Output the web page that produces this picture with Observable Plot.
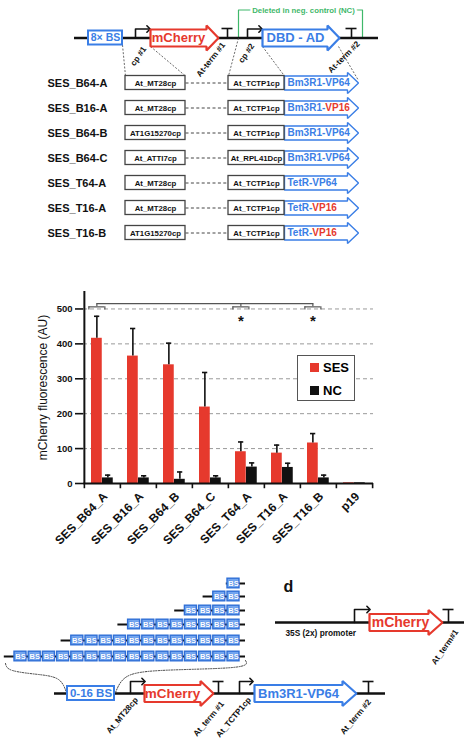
<!DOCTYPE html>
<html><head><meta charset="utf-8">
<script src="https://cdn.jsdelivr.net/npm/d3@7"></script>
<script src="https://cdn.jsdelivr.net/npm/@observablehq/plot@0.6"></script>
<style>
body{margin:0;background:#fff;}
#fig{position:relative;width:467px;height:751px;overflow:hidden;font-family:"Liberation Sans",Arial,Helvetica,sans-serif;background:#fff;}
#fig > *{position:absolute;left:0;}
#legend{left:297px;top:355px;width:56px;height:44px;border:1.5px solid #555;background:#fff;font-weight:bold;font-size:13px;}
#legend .row{position:absolute;left:12px;display:flex;align-items:center;gap:4px;}
#legend .sw{width:9px;height:9px;display:inline-block;}
</style></head><body><div id="fig"></div>
<script>
const FONT = "'Liberation Sans', Arial, Helvetica, sans-serif";
const RED = "#e6392d", BLUE = "#3a7ee6", GREEN = "#3fb86a";

// ---------- bar chart data ----------
const groups = ["SES_B64_A","SES_B16_A","SES_B64_B","SES_B64_C","SES_T64_A","SES_T16_A","SES_T16_B","p19"];
const sesMean = [416,365,340,219,91,87,116,2];
const sesSd   = [63,79,62,99,28,23,27,0];
const ncMean  = [16,16,12,16,47,46,16,2];
const ncSd    = [8,6,21,6,12,12,8,0];
const series = ["SES","NC"];
const seriesColors = [RED,"#111"];
const yTicks = [0,100,200,300,400,500];
const yGrid = [100,200,300,400,500];
const sigRef = "SES_B64_A";
const sigGroups = ["SES_T64_A","SES_T16_B"];
const yLabel = "mCherry fluorescence (AU)";

// ---------- construct table ----------
const constructs = ["SES_B64-A","SES_B16-A","SES_B64-B","SES_B64-C","SES_T64-A","SES_T16-A","SES_T16-B"];
const cp1 = ["At_MT28cp","At_MT28cp","AT1G15270cp","At_ATTI7cp","At_MT28cp","At_MT28cp","AT1G15270cp"];
const cp2 = ["At_TCTP1cp","At_TCTP1cp","At_TCTP1cp","At_RPL41Dcp","At_TCTP1cp","At_TCTP1cp","At_TCTP1cp"];
const dbd = ["Bm3R1-","Bm3R1-","Bm3R1-","Bm3R1-","TetR-","TetR-","TetR-"];
const ad  = ["VP64","VP16","VP64","VP64","VP64","VP16","VP16"];
const bsCounts = [1,2,4,8,12,16];

// ---------- diagram layout (pixel space) ----------
const rowY0 = 82.5, rowStep = 25;
const bsRowY = [583,596,610,624,640,656];

const fig = document.getElementById("fig");

const cv = document.createElement("canvas").getContext("2d");
function tw(t, size){ cv.font = `bold ${size}px ${FONT}`; return cv.measureText(t).width; }

function arrowPts(id, c, x0, xh, x1, yc, bh, hh){
  return [[x0,yc-bh/2],[xh,yc-bh/2],[xh,yc-hh/2],[x1,yc],[xh,yc+hh/2],[xh,yc+bh/2],[x0,yc+bh/2],[x0,yc-bh/2]]
    .map(([x,y])=>({id,c,x,y}));
}
function promoter(id, x, base, top, len){
  return [{id,x,y:base},{id,x,y:top},{id,x:x+len,y:top}];
}

// big arrows
const bigArrows = [
  ...arrowPts("m1",RED,150,206,218,37.5,17,25),
  ...arrowPts("dbd",BLUE,262,327,339,37.5,17,25),
  ...arrowPts("m2",RED,144,200,213,693,17,25),
  ...arrowPts("bm",BLUE,254,342,356,693,17,25),
  ...arrowPts("m3",RED,369,428,442,622,17,25)
];
const rowArrows = constructs.flatMap((c,i)=>arrowPts("r"+i,BLUE,284,347,358,rowY0+i*rowStep,14,21));
const promoters = [
  ...promoter("p1",135,37.5,28.5,13),
  ...promoter("p2",247,37.5,28.5,13),
  ...promoter("p3",130,693,681,13),
  ...promoter("p4",239,693,681,12),
  ...promoter("p5",354,622,609,14)
];
const terms = [{x:227,b:37.5,t:28},{x:351,b:37.5,t:28},{x:218,b:693,t:681},{x:368,b:693,t:681},{x:448,b:622,t:609}];
const backbones = [{x1:74,x2:378,y:37.5},{x1:54,x2:385,y:693},{x1:275,x2:464,y:622}];

// BS stacks
const bsStep = 14.2, bsRight = 240;
const bsBoxes = [], bsLines = [];
bsCounts.forEach((n,r)=>{
  const y = bsRowY[r];
  for(let k=0;k<n;k++){
    const x2 = bsRight - k*bsStep - 1;
    bsBoxes.push({x1:x2-12,x2,y1:y-4.8,y2:y+4.8,xc:x2-6,y});
  }
  const left = bsRight - n*bsStep - 1;
  bsLines.push({x1: n>1 ? left-8 : left+1, x2:bsRight+5, y});
});
const dotted = [
  {id:"L",x:5,y:663},{id:"L",x:12,y:670},{id:"L",x:38,y:674},{id:"L",x:58,y:679},{id:"L",x:66,y:692},
  {id:"R",x:245,y:660},{id:"R",x:232,y:667},{id:"R",x:160,y:670},{id:"R",x:125,y:677},{id:"R",x:115,y:692}
];
const zoomLinks = [
  {x1:122,y1:44.5,x2:125,y2:75.5},{x1:150,y1:46,x2:185,y2:75.5},
  {x1:238,y1:37.5,x2:228,y2:75.5},{x1:262,y1:46,x2:284,y2:75.5},{x1:338,y1:46,x2:358,y2:80}
];
const greenBracket = [{x:238,y:37.5},{x:238,y:9.5},{x:362,y:9.5},{x:362,y:37.5}];

const rows = constructs.map((name,i)=>({name,cp1:cp1[i],cp2:cp2[i],dbd:dbd[i],ad:ad[i],y:rowY0+i*rowStep}));

const midTexts = [
  {x:105,y:37.5,t:"8× BS",c:BLUE,s:10.5},
  {x:178,y:37.5,t:"mCherry",c:RED,s:13},
  {x:295,y:37.5,t:"DBD - AD",c:BLUE,s:13},
  {x:90.5,y:693,t:"0-16 BS",c:BLUE,s:11.5},
  {x:172,y:693,t:"mCherry",c:RED,s:13.5},
  {x:298,y:693,t:"Bm3R1-VP64",c:BLUE,s:13},
  {x:400,y:622,t:"mCherry",c:RED,s:14}
];
const rotTexts = [
  {x:144,y:47,t:"cp #1",r:-55},
  {x:223,y:43,t:"At-term #1",r:-52},
  {x:252,y:44,t:"cp #2",r:-55},
  {x:358,y:42,t:"At-term #2",r:-45},
  {x:136,y:698,t:"At_MT28cp",r:-50},
  {x:222,y:702,t:"At_term #1",r:-50},
  {x:249,y:698,t:"At_TCTP1cp",r:-50},
  {x:369,y:700,t:"At_term #2",r:-50},
  {x:456,y:630,t:"At_term#1",r:-55}
];

const diag = Plot.plot({
  width:467, height:751, margin:0,
  x:{domain:[0,467], range:[0,467], axis:null},
  y:{domain:[0,751], range:[0,751], axis:null},
  color:{type:"identity"},
  style:{fontFamily:FONT, overflow:"visible", background:"transparent"},
  marks:[
    // top green bracket
    Plot.line(greenBracket,{x:"x",y:"y",stroke:GREEN,strokeWidth:1.2}),
    Plot.text(["Deleted in neg. control (NC)"],{x:()=>303,y:()=>10,fill:GREEN,stroke:"white",strokeWidth:5,fontWeight:"bold",fontSize:7.8}),
    // backbones
    Plot.ruleY(backbones,{x1:"x1",x2:"x2",y:"y",stroke:"#111",strokeWidth:2.5}),
    Plot.ruleY(bsLines,{x1:"x1",x2:"x2",y:"y",stroke:"#111",strokeWidth:2}),
    // dashed zoom lines
    Plot.link(zoomLinks,{x1:"x1",y1:"y1",x2:"x2",y2:"y2",stroke:"#444",strokeWidth:0.8,strokeDasharray:"2,1.6"}),
    Plot.line(dotted,{x:"x",y:"y",z:"id",curve:"natural",stroke:"#444",strokeWidth:1,strokeDasharray:"1.2,1.4"}),
    // BS boxes
    Plot.rect([{x1:88,x2:122,y1:30.5,y2:44.5},{x1:67,x2:114,y1:686,y2:700}],{x1:"x1",x2:"x2",y1:"y1",y2:"y2",fill:"white",stroke:BLUE,strokeWidth:2}),
    Plot.rect(bsBoxes,{x1:"x1",x2:"x2",y1:"y1",y2:"y2",fill:"#74a6f0",stroke:"#2f6fd6",strokeWidth:1.4}),
    Plot.text(bsBoxes,{x:"xc",y:"y",text:()=>"BS",fill:"white",stroke:"#2f6fd6",strokeWidth:0.4,fontWeight:"bold",fontSize:7.5}),
    // terminators
    Plot.ruleX(terms,{x:"x",y1:"b",y2:"t",stroke:"#111",strokeWidth:1.6}),
    Plot.ruleY(terms,{y:"t",x1:d=>d.x-5.5,x2:d=>d.x+5.5,stroke:"#111",strokeWidth:1.6}),
    // promoters
    Plot.line(promoters,{x:"x",y:"y",z:"id",stroke:"#111",strokeWidth:1.6,markerEnd:"arrow"}),
    // block arrows
    Plot.line(bigArrows,{x:"x",y:"y",z:"id",stroke:"c",fill:"white",strokeWidth:2.2,strokeLinejoin:"miter"}),
    Plot.line(rowArrows,{x:"x",y:"y",z:"id",stroke:"c",fill:"white",strokeWidth:1.4,strokeLinejoin:"miter"}),
    Plot.text(midTexts,{x:"x",y:"y",text:"t",fill:"c",fontSize:"s",fontWeight:"bold"}),
    Plot.text(rotTexts,{x:"x",y:"y",text:"t",rotate:"r",textAnchor:"end",fill:"#111",fontSize:8.3,fontWeight:"bold"}),
    // construct table
    Plot.text(rows,{x:()=>47,y:"y",text:"name",textAnchor:"start",fill:"#111",fontSize:11,fontWeight:"bold"}),
    Plot.link(rows,{x1:()=>185,x2:()=>228,y1:"y",y2:"y",stroke:"#444",strokeWidth:1,strokeDasharray:"3,2.4"}),
    Plot.rect(rows,{x1:()=>125,x2:()=>185,y1:d=>d.y-7,y2:d=>d.y+7,fill:"white",stroke:"#444",strokeWidth:1.3}),
    Plot.rect(rows,{x1:()=>228,x2:()=>284,y1:d=>d.y-7,y2:d=>d.y+7,fill:"white",stroke:"#444",strokeWidth:1.3}),
    Plot.text(rows,{x:()=>155,y:"y",text:"cp1",fill:"#111",fontSize:7.8,fontWeight:"bold"}),
    Plot.text(rows,{x:()=>256,y:"y",text:"cp2",fill:"#111",fontSize:7.8,fontWeight:"bold"}),
    Plot.text(rows,{x:()=>287,y:"y",text:"dbd",textAnchor:"start",fill:BLUE,fontSize:10,fontWeight:"bold"}),
    Plot.text(rows,{x:d=>287+tw(d.dbd,10),y:"y",text:"ad",textAnchor:"start",fill:d=>d.ad==="VP16"?RED:BLUE,fontSize:10,fontWeight:"bold"}),
    // panel d
    Plot.text(["d"],{x:()=>288,y:()=>586,fill:"#111",fontSize:16,fontWeight:"bold"}),
    Plot.text(["35S (2x) promoter"],{x:()=>285,y:()=>633,textAnchor:"start",fill:"#111",fontSize:8.3,fontWeight:"bold"})
  ]
});
diag.style.top = "0px";
fig.appendChild(diag);

// ---------- bar chart ----------
const data = groups.map((g,i)=>({g,ses:sesMean[i],sesHi:sesMean[i]+sesSd[i],nc:ncMean[i],ncHi:ncMean[i]+ncSd[i]}));
const bw = (467-83-94)/groups.length;
const sesDx = 7 + 5.5 - bw/2, ncDx = 18 + 5.5 - bw/2;
const sesCenters = [sigRef,...sigGroups];
const bar = Plot.plot({
  width:467, height:300, marginLeft:83, marginRight:94, marginTop:9, marginBottom:99,
  style:{fontFamily:FONT, overflow:"visible", background:"transparent", color:"#111"},
  x:{type:"band", domain:groups, padding:0, axis:null},
  y:{domain:[0,550], axis:null},
  marks:[
    Plot.ruleY(yGrid,{stroke:"#9a9a9a",strokeWidth:1,strokeDasharray:"4,3"}),
    Plot.barY(data,{x:"g",y:"ses",fill:seriesColors[0],insetLeft:7,insetRight:bw-18}),
    Plot.barY(data,{x:"g",y:"nc",fill:seriesColors[1],insetLeft:18,insetRight:bw-29}),
    Plot.ruleX(data.filter(d=>d.sesHi>d.ses),{x:"g",y1:"ses",y2:"sesHi",dx:sesDx,stroke:"#111",strokeWidth:1.6}),
    Plot.tickY(data.filter(d=>d.sesHi>d.ses),{x:"g",y:"sesHi",insetLeft:7+5.5-2.5,insetRight:bw-(7+5.5+3),stroke:"#111",strokeWidth:1.6}),
    Plot.ruleX(data.filter(d=>d.ncHi>d.nc),{x:"g",y1:"nc",y2:"ncHi",dx:ncDx,stroke:"#111",strokeWidth:1.6}),
    Plot.tickY(data.filter(d=>d.ncHi>d.nc),{x:"g",y:"ncHi",insetLeft:18+5.5-2.5,insetRight:bw-(18+5.5+3),stroke:"#111",strokeWidth:1.6}),
    // axes
    Plot.ruleY([0],{stroke:"#111",strokeWidth:2}),
    Plot.ruleX([groups[0]],{x:d=>d,dx:-bw/2,y1:0,y2:550,stroke:"#111",strokeWidth:2}),
    Plot.ruleX(groups,{x:d=>d,dx:-bw/2,y1:0,y2:-15,stroke:"#111",strokeWidth:1.6}),
    Plot.ruleX([groups[groups.length-1]],{x:d=>d,dx:bw/2,y1:0,y2:-15,stroke:"#111",strokeWidth:1.6}),
    Plot.axisY({ticks:yTicks,tickSize:8,tickPadding:3,tickFormat:d=>d,fontWeight:"bold",fontSize:9.5,label:null,strokeWidth:1.6}),
    Plot.text([yLabel],{frameAnchor:"left",textAnchor:"middle",rotate:-90,dx:-40,fontSize:12,fill:"#111"}),
    Plot.text(groups,{x:d=>d,y:0,dy:11,dx:3,rotate:-45,textAnchor:"end",fontWeight:"bold",fontSize:12,fill:"#111"}),
    // significance brackets
    Plot.line([{g:sigRef,v:515},{g:sigGroups[sigGroups.length-1],v:515}],{x:"g",y:"v",dx:sesDx,stroke:"#555",strokeWidth:1.2}),
    Plot.ruleX(sesCenters,{x:d=>d,dx:sesDx,y1:506,y2:515,stroke:"#555",strokeWidth:1.2}),
    Plot.tickY(sesCenters,{x:d=>d,y:()=>506,insetLeft:4.5,insetRight:bw-20.5,stroke:"#555",strokeWidth:1.2}),
    Plot.ruleX(sesCenters,{x:d=>d,dx:sesDx-8,y1:497,y2:506,stroke:"#555",strokeWidth:1.2}),
    Plot.ruleX(sesCenters,{x:d=>d,dx:sesDx+8,y1:497,y2:506,stroke:"#555",strokeWidth:1.2}),
    Plot.text(sigGroups,{x:d=>d,y:()=>464,dx:sesDx,text:()=>"*",fontSize:15,fontWeight:"bold",fill:"#111"})
  ]
});
bar.style.top = "282px";
fig.appendChild(bar);

// legend
const leg = document.createElement("div");
leg.id = "legend";
leg.innerHTML = series.map((s,i)=>`<div class="row" style="top:${i?27:4}px"><span class="sw" style="background:${seriesColors[i]}"></span><span>${s}</span></div>`).join("");
fig.appendChild(leg);
</script>
</body></html>
